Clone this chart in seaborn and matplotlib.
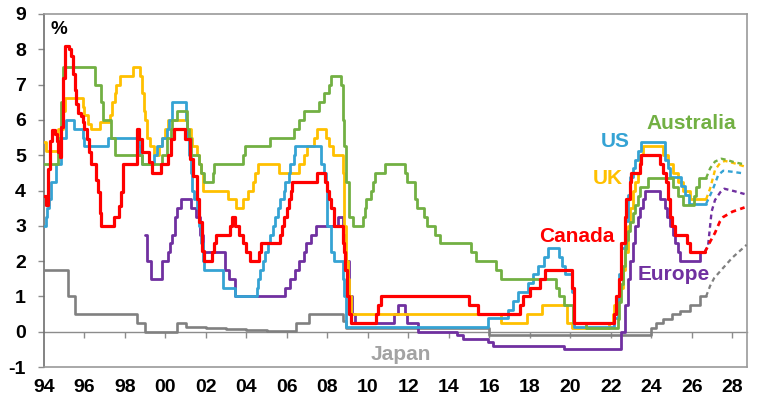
import matplotlib
matplotlib.use("Agg")
import matplotlib.pyplot as plt
import pandas as pd
import seaborn as sns

# ---------------- data (decimal year, policy rate %) ----------------
australia = [(1994.0, 4.75), (1994.67, 5.5), (1994.83, 6.5), (1994.92, 7.5), (1996.5, 7.0), (1996.83, 6.5),
             (1996.92, 6.0), (1997.33, 5.5), (1997.5, 5.0), (1998.83, 4.75), (1999.83, 5.0), (2000.08, 5.5),
             (2000.25, 5.75), (2000.33, 6.0), (2000.58, 6.25), (2001.08, 5.75), (2001.17, 5.5), (2001.25, 5.0),
             (2001.67, 4.75), (2001.75, 4.5), (2001.92, 4.25), (2002.33, 4.5), (2002.42, 4.75), (2003.83, 5.0),
             (2003.92, 5.25), (2005.17, 5.5), (2006.33, 5.75), (2006.58, 6.0), (2006.83, 6.25), (2007.58, 6.5),
             (2007.83, 6.75), (2008.08, 7.0), (2008.17, 7.25), (2008.67, 7.0), (2008.75, 6.0), (2008.83, 5.25),
             (2008.92, 4.25), (2009.08, 3.25), (2009.25, 3.0), (2009.75, 3.25), (2009.83, 3.5), (2009.92, 3.75),
             (2010.17, 4.0), (2010.25, 4.25), (2010.33, 4.5), (2010.83, 4.75), (2011.83, 4.5), (2011.92, 4.25),
             (2012.33, 3.75), (2012.42, 3.5), (2012.75, 3.25), (2012.92, 3.0), (2013.33, 2.75), (2013.58, 2.5),
             (2015.08, 2.25), (2015.33, 2.0), (2016.33, 1.75), (2016.58, 1.5), (2019.3, 1.25), (2019.42, 1.0),
             (2019.67, 0.75), (2020.12, 0.25), (2020.75, 0.1), (2022.33, 0.35), (2022.42, 0.85), (2022.5, 1.35),
             (2022.58, 1.85), (2022.67, 2.35), (2022.75, 2.6), (2022.83, 2.85), (2022.92, 3.1), (2023.08, 3.35),
             (2023.17, 3.6), (2023.33, 3.85), (2023.42, 4.1), (2023.83, 4.35), (2025.08, 4.1), (2025.33, 3.85),
             (2025.58, 3.6), (2026.12, 3.85), (2026.22, 4.1), (2026.33, 4.35), (2026.7, 4.35)]
us = [(1994.0, 3.0), (1994.08, 3.25), (1994.17, 3.5), (1994.25, 3.75), (1994.33, 4.25), (1994.58, 4.75),
      (1994.83, 5.5), (1995.08, 6.0), (1995.5, 5.75), (1995.92, 5.5), (1996.0, 5.25), (1997.17, 5.5),
      (1998.67, 5.25), (1998.75, 5.0), (1998.83, 4.75), (1999.42, 5.0), (1999.58, 5.25), (1999.83, 5.5),
      (2000.08, 5.75), (2000.17, 6.0), (2000.33, 6.5), (2001.0, 6.0), (2001.08, 5.5), (2001.17, 5.0),
      (2001.25, 4.5), (2001.33, 4.0), (2001.42, 3.75), (2001.58, 3.5), (2001.67, 3.0), (2001.75, 2.5),
      (2001.83, 2.0), (2001.92, 1.75), (2002.83, 1.25), (2003.42, 1.0), (2004.5, 1.25), (2004.58, 1.5),
      (2004.67, 1.75), (2004.83, 2.0), (2004.92, 2.25), (2005.08, 2.5), (2005.17, 2.75), (2005.33, 3.0),
      (2005.42, 3.25), (2005.58, 3.5), (2005.67, 3.75), (2005.83, 4.0), (2005.92, 4.25), (2006.08, 4.5),
      (2006.17, 4.75), (2006.33, 5.0), (2006.42, 5.25), (2007.67, 4.75), (2007.83, 4.5), (2007.92, 4.25),
      (2008.0, 3.0), (2008.17, 2.25), (2008.33, 2.0), (2008.75, 1.5), (2008.83, 1.0), (2008.92, 0.125),
      (2015.92, 0.375), (2016.92, 0.625), (2017.17, 0.875), (2017.42, 1.125), (2017.92, 1.375),
      (2018.17, 1.625), (2018.42, 1.875), (2018.67, 2.125), (2018.88, 2.375), (2019.42, 2.125),
      (2019.58, 1.875), (2019.75, 1.625), (2020.08, 1.125), (2020.17, 0.125), (2022.17, 0.375),
      (2022.33, 0.875), (2022.42, 1.625), (2022.5, 2.375), (2022.67, 3.125), (2022.83, 3.875),
      (2022.92, 4.375), (2023.08, 4.625), (2023.17, 4.875), (2023.33, 5.125), (2023.47, 5.375),
      (2024.67, 4.875), (2024.83, 4.625), (2024.92, 4.375), (2025.45, 4.125), (2025.65, 3.875),
      (2025.85, 3.625), (2026.7, 3.625)]
uk = [(1994.0, 5.375), (1994.08, 5.125), (1994.67, 5.75), (1994.92, 6.25), (1995.05, 6.625), (1995.92, 6.375),
      (1996.0, 6.125), (1996.17, 5.875), (1996.3, 5.75), (1996.75, 5.95), (1997.25, 6.15), (1997.38, 6.5),
      (1997.5, 6.75), (1997.58, 7.0), (1997.75, 7.25), (1998.42, 7.5), (1998.75, 7.25), (1998.83, 6.75),
      (1998.92, 6.25), (1999.0, 6.0), (1999.08, 5.5), (1999.25, 5.25), (1999.42, 5.0), (1999.67, 5.25),
      (1999.83, 5.5), (2000.0, 5.75), (2000.1, 6.0), (2001.08, 5.75), (2001.25, 5.5), (2001.33, 5.25),
      (2001.58, 5.0), (2001.67, 4.75), (2001.75, 4.5), (2001.83, 4.0), (2003.08, 3.75), (2003.5, 3.5),
      (2003.83, 3.75), (2004.08, 4.0), (2004.33, 4.25), (2004.42, 4.5), (2004.58, 4.75), (2005.6, 4.5),
      (2006.58, 4.75), (2006.83, 5.0), (2007.0, 5.25), (2007.33, 5.5), (2007.5, 5.75), (2007.92, 5.5),
      (2008.08, 5.25), (2008.25, 5.0), (2008.75, 4.5), (2008.83, 3.0), (2008.92, 2.0), (2009.0, 1.5),
      (2009.08, 1.0), (2009.17, 0.5), (2016.58, 0.25), (2017.83, 0.5), (2018.58, 0.75), (2019.85, 0.25),
      (2020.1, 0.1), (2021.92, 0.25), (2022.08, 0.5), (2022.17, 0.75), (2022.33, 1.0), (2022.42, 1.25),
      (2022.58, 1.75), (2022.67, 2.25), (2022.83, 3.0), (2022.92, 3.5), (2023.08, 4.0), (2023.17, 4.25),
      (2023.33, 4.5), (2023.42, 5.0), (2023.58, 5.25), (2024.58, 5.0), (2024.83, 4.75), (2025.08, 4.5),
      (2025.33, 4.25), (2025.58, 4.0), (2025.9, 3.75), (2026.7, 3.75)]
canada = [(1994.0, 3.85), (1994.1, 3.6), (1994.2, 4.6), (1994.3, 5.4), (1994.38, 5.7), (1994.55, 5.6),
          (1994.63, 5.4), (1994.7, 5.1), (1994.78, 4.95), (1994.85, 5.8), (1994.95, 7.2), (1995.05, 8.1),
          (1995.25, 8.0), (1995.35, 7.8), (1995.43, 7.3), (1995.52, 6.85), (1995.6, 6.45), (1995.68, 6.2),
          (1995.85, 6.1), (1995.93, 5.95), (1996.0, 5.75), (1996.12, 5.45), (1996.22, 5.1), (1996.33, 4.75),
          (1996.55, 4.3), (1996.65, 3.95), (1996.75, 3.35), (1996.83, 3.0), (1997.45, 3.25), (1997.72, 3.55),
          (1997.82, 3.95), (1997.9, 4.75), (1998.58, 5.75), (1998.7, 5.45), (1998.85, 5.1), (1999.18, 4.8),
          (1999.35, 4.5), (1999.8, 4.75), (2000.1, 5.0), (2000.28, 5.45), (2000.42, 5.75), (2000.98, 5.45),
          (2001.2, 4.9), (2001.38, 4.4), (2001.55, 3.75), (2001.65, 3.1), (2001.8, 2.3), (2001.92, 2.0),
          (2002.28, 2.25), (2002.4, 2.5), (2002.5, 2.75), (2003.2, 3.0), (2003.3, 3.25), (2003.45, 3.0),
          (2003.62, 2.75), (2003.83, 2.5), (2004.0, 2.25), (2004.15, 2.0), (2004.6, 2.25), (2004.7, 2.5),
          (2005.65, 2.75), (2005.75, 3.0), (2005.87, 3.25), (2005.98, 3.5), (2006.1, 3.75), (2006.18, 4.0),
          (2006.27, 4.25), (2007.48, 4.5), (2007.9, 4.25), (2008.0, 4.0), (2008.1, 3.75), (2008.17, 3.5),
          (2008.3, 3.0), (2008.75, 2.5), (2008.8, 2.25), (2008.87, 1.75), (2008.95, 1.0), (2009.05, 0.5),
          (2009.15, 0.25), (2010.42, 0.5), (2010.5, 0.75), (2010.62, 1.0), (2014.98, 0.75), (2015.45, 0.5),
          (2017.5, 0.75), (2017.67, 1.0), (2018.0, 1.25), (2018.5, 1.5), (2018.75, 1.75), (2020.08, 1.25),
          (2020.17, 0.25), (2022.17, 0.5), (2022.25, 1.0), (2022.42, 1.5), (2022.5, 2.5), (2022.67, 3.25),
          (2022.75, 3.75), (2022.92, 4.25), (2023.0, 4.5), (2023.42, 4.75), (2023.5, 5.0), (2024.4, 4.75),
          (2024.55, 4.5), (2024.7, 4.25), (2024.8, 3.75), (2024.92, 3.25), (2025.0, 3.0), (2025.17, 2.75),
          (2025.75, 2.5), (2025.92, 2.25), (2026.64, 2.25)]
europe = [(1999.0, 2.75), (1999.07, 2.0), (1999.3, 1.5), (1999.85, 2.0), (2000.1, 2.25), (2000.2, 2.5),
          (2000.3, 2.75), (2000.45, 3.25), (2000.55, 3.5), (2000.75, 3.75), (2001.25, 3.5), (2001.5, 3.25),
          (2001.7, 2.75), (2001.85, 2.25), (2002.95, 1.75), (2003.15, 1.5), (2003.42, 1.0), (2005.92, 1.25),
          (2006.17, 1.5), (2006.42, 1.75), (2006.58, 2.0), (2006.83, 2.25), (2006.95, 2.5), (2007.2, 2.75),
          (2007.45, 3.0), (2008.5, 3.25), (2008.78, 2.75), (2008.85, 2.25), (2008.92, 2.0), (2009.05, 1.0),
          (2009.2, 0.5), (2009.35, 0.25), (2011.3, 0.5), (2011.5, 0.75), (2011.83, 0.5), (2011.92, 0.25),
          (2012.45, 0.0), (2014.42, -0.1), (2014.67, -0.2), (2015.92, -0.3), (2016.17, -0.4), (2019.67, -0.5),
          (2022.5, 0.0), (2022.67, 0.75), (2022.83, 1.5), (2022.92, 2.0), (2023.08, 2.5), (2023.17, 3.0),
          (2023.33, 3.25), (2023.42, 3.5), (2023.58, 3.75), (2023.67, 4.0), (2024.42, 3.75), (2024.67, 3.5),
          (2024.75, 3.25), (2024.92, 3.0), (2025.08, 2.75), (2025.17, 2.5), (2025.33, 2.25), (2025.42, 2.0),
          (2026.42, 2.25), (2026.62, 2.25)]
japan = [(1994.0, 1.75), (1995.2, 1.0), (1995.55, 0.5), (1998.6, 0.25), (1999.0, 0.0), (2000.55, 0.25),
         (2001.0, 0.13), (2002.0, 0.11), (2003.0, 0.08), (2004.0, 0.05), (2005.0, 0.03), (2006.0, 0.01),
         (2006.45, 0.25), (2007.07, 0.5), (2008.75, 0.3), (2008.92, 0.1), (2016.0, -0.1), (2024.0, 0.1),
         (2024.25, 0.25), (2024.58, 0.35), (2025.0, 0.5), (2025.4, 0.6), (2025.9, 0.75), (2026.4, 1.0),
         (2026.7, 1.0)]

# projections (dashed)
australia_fc = [(2026.7, 4.35), (2026.9, 4.63), (2027.14, 4.82), (2027.45, 4.9), (2027.7, 4.87), (2028.1, 4.8), (2028.6, 4.74)]
uk_fc = [(2026.7, 3.75), (2026.9, 4.06), (2027.14, 4.58), (2027.38, 4.77), (2027.63, 4.84), (2028.1, 4.77), (2028.6, 4.68)]
us_fc = [(2026.7, 3.625), (2026.85, 3.8), (2027.05, 4.06), (2027.3, 4.44), (2027.55, 4.56), (2028.0, 4.53), (2028.6, 4.48)]
europe_fc = [(2026.62, 2.25), (2026.8, 2.45), (2026.97, 3.4), (2027.14, 3.73), (2027.4, 3.95), (2027.6, 4.05), (2028.1, 3.98), (2028.6, 3.9)]
canada_fc = [(2026.64, 2.25), (2026.9, 2.55), (2027.14, 2.8), (2027.38, 3.12), (2027.55, 3.25), (2028.0, 3.4), (2028.6, 3.52)]
japan_fc = [(2026.7, 1.0), (2026.9, 1.3), (2027.1, 1.52), (2027.5, 1.78), (2028.0, 2.1), (2028.7, 2.46)]

x_ticks = [1994, 1996, 1998, 2000, 2002, 2004, 2006, 2008, 2010, 2012, 2014, 2016, 2018, 2020, 2022, 2024, 2026, 2028]
x_labels = ["94", "96", "98", "00", "02", "04", "06", "08", "10", "12", "14", "16", "18", "20", "22", "24", "26", "28"]
y_ticks = [-1, 0, 1, 2, 3, 4, 5, 6, 7, 8, 9]

labels = [("Australia", 2025.95, 5.9), ("US", 2022.2, 5.38), ("UK", 2021.82, 4.35),
          ("Canada", 2020.3, 2.69), ("Europe", 2025.08, 1.63), ("Japan", 2011.62, -0.64)]

COL = {"Australia": "#72B043", "US": "#35A3D4", "UK": "#FFC000", "Canada": "#FF0000",
       "Europe": "#7030A0", "Japan": "#808080"}
LABEL_COL = dict(COL, Japan="#A3A3A3")

# ---------------- drawing ----------------
sns.set_theme(style="white")
plt.rcParams["font.family"] = ["Liberation Sans", "DejaVu Sans"]
plt.rcParams["font.weight"] = "bold"

fig = plt.figure(figsize=(7.68, 4.05), dpi=100)
ax = fig.add_axes([44 / 768, 1 - 367 / 405, (747 - 44) / 768, (367 - 14) / 405])

frame_col = "#8c8c8c"


def draw(points, color, lw, z, dashed=False):
    df = pd.DataFrame(points, columns=["year", "rate"])
    kw = {}
    if dashed:
        kw["linestyle"] = (0, (2.0, 1.6))
    else:
        kw["drawstyle"] = "steps-post"
    sns.lineplot(data=df, x="year", y="rate", ax=ax, color=color, lw=lw, zorder=z,
                 estimator=None, errorbar=None, sort=False, legend=False, **kw)


series = [("Japan", japan, japan_fc, 1.9, 3), ("Europe", europe, europe_fc, 2.0, 4),
          ("UK", uk, uk_fc, 2.0, 5), ("US", us, us_fc, 2.0, 6),
          ("Australia", australia, australia_fc, 2.0, 7), ("Canada", canada, canada_fc, 2.3, 8)]
for name, hist, fc, lw, z in series:
    draw(hist, COL[name], lw, z)
    draw(fc, COL[name], lw * 0.85, z, dashed=True)

ax.set_xlim(1994, 2028.72)
ax.set_ylim(-1, 9)
ax.set_xlabel("")
ax.set_ylabel("")

ax.set_xticks(x_ticks)
ax.set_xticklabels(x_labels)
ax.set_yticks(y_ticks)
ax.set_yticklabels([str(v) for v in y_ticks])
ax.tick_params(axis="x", length=0, pad=9, labelsize=14, labelcolor="black")
ax.tick_params(axis="y", direction="out", length=4, width=1, color=frame_col, pad=9,
               labelsize=14, labelcolor="black", left=True)
for lab in ax.get_xticklabels() + ax.get_yticklabels():
    lab.set_fontweight("bold")

for side in ["top", "right", "bottom"]:
    ax.spines[side].set_color("#9a9a9a")
    ax.spines[side].set_linewidth(1.2)
ax.spines["left"].set_color("#6e6e6e")
ax.spines["left"].set_linewidth(1.2)

# zero line with its own tick marks
try:
    sec = ax.secondary_xaxis(0, transform=ax.transData)
    sec.set_xticks(x_ticks[1:])
    sec.tick_params(axis="x", direction="out", length=4, width=1, color=frame_col,
                    labelbottom=False, labeltop=False)
    for sp in sec.spines.values():
        sp.set_color(frame_col)
        sp.set_linewidth(1.0)
except TypeError:
    ax.axhline(0, color=frame_col, lw=1.0, zorder=2)

for text, xx, yy in labels:
    ax.text(xx, yy, text, color=LABEL_COL[text], fontsize=15, fontweight="bold",
            ha="center", va="center", zorder=10)
ax.text(1994.75, 8.55, "%", color="black", fontsize=13.5, fontweight="bold",
        ha="center", va="center")

fig.savefig("out.png", dpi=100, facecolor="white")
